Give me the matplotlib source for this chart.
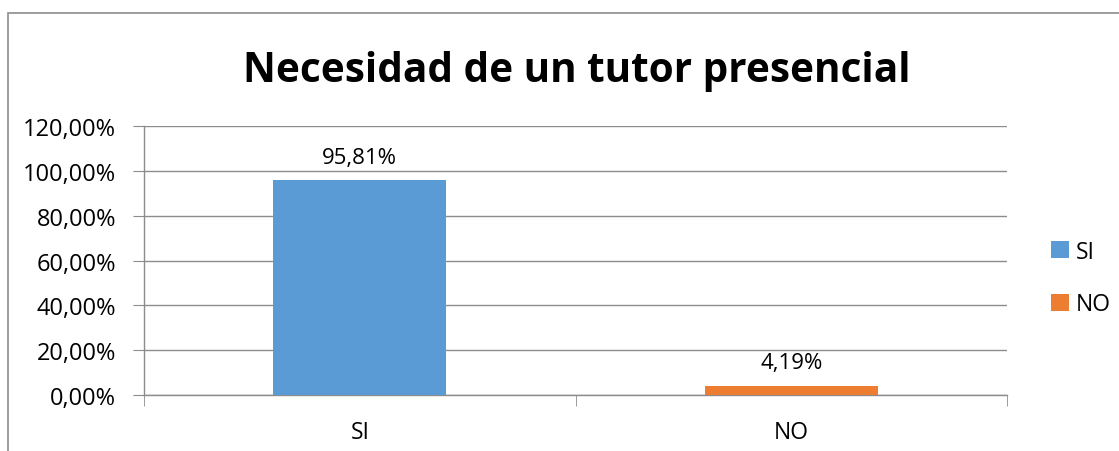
"""
Necesidad de un tutor presencial - bar chart
"""
from matplotlib import pyplot as plt
from matplotlib.patches import Rectangle, Patch
import numpy as np

categories = ["SI", "NO"]
values = [95.81, 4.19]
colors = ["#5B9BD5", "#ED7D31"]
y_ticks = [0, 20, 40, 60, 80, 100, 120]
title = "Necesidad de un tutor presencial"

W, H = 1119, 452
plt.rcParams['font.family'] = ['Open Sans', 'DejaVu Sans']

fig = plt.figure(figsize=(W / 100, H / 100), dpi=100)
fig.patch.set_facecolor('white')

# chart border, cut by the image edge on the right and bottom
fig.patches.append(Rectangle((8 / W, -0.1), 1.2, 1 - 14 / H + 0.1,
                             transform=fig.transFigure, fill=False,
                             edgecolor='#8c8c8c', linewidth=1.2))

ax = fig.add_axes([144 / W, 1 - 396 / H, (1007 - 144) / W, (396 - 127) / H])

x = np.arange(len(categories))
bars = ax.bar(x, values, width=0.4, color=colors, zorder=3)
for xi, v in zip(x, values):
    ax.annotate(f"{v:.2f}%".replace('.', ','), (xi, v), xytext=(0, 9),
                textcoords='offset points', ha='center', va='bottom',
                fontsize=16, zorder=4)

ax.set_xlim(-0.5, len(categories) - 0.5)
ax.set_ylim(0, 120)
ax.set_yticks(y_ticks)
ax.set_yticklabels([f"{t:.2f}%".replace('.', ',') for t in y_ticks], fontsize=17)
ax.yaxis.grid(True, color='#8c8c8c', linewidth=1.0, zorder=0)
ax.tick_params(axis='y', length=8, color='#8c8c8c', pad=12)

ax.set_xticks(x)
ax.set_xticklabels(categories, fontsize=16.5)
ax.set_xticks(np.arange(-0.5, len(categories)), minor=True)
ax.tick_params(axis='x', which='major', length=0, pad=18)
ax.tick_params(axis='x', which='minor', length=8, color='#8c8c8c')

for s in ['top', 'right']:
    ax.spines[s].set_visible(False)
for s in ['left', 'bottom']:
    ax.spines[s].set_color('#8c8c8c')
    ax.spines[s].set_linewidth(1.0)

fig.text(577 / W, 1 - 71 / H, title, ha='center', va='center',
         fontsize=29.2, fontweight='bold')

handles = [Patch(facecolor=c, label=l) for c, l in zip(colors, categories)]
fig.legend(handles=handles, loc='center left', bbox_to_anchor=(1040 / W, 1 - 279 / H),
           frameon=False, fontsize=16.5, handlelength=0.75, handleheight=0.75,
           handletextpad=0.3, labelspacing=1.25, borderpad=0)

fig.savefig('out.png', dpi=100)
